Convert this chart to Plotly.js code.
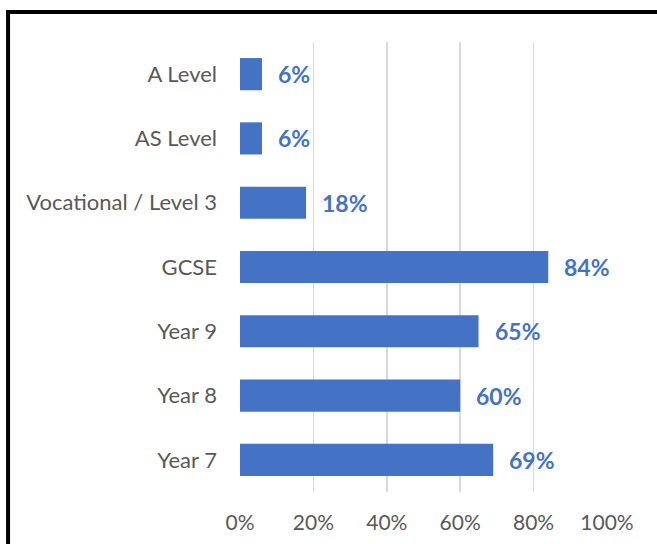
<!DOCTYPE html>
<html>
<head>
<meta charset="utf-8">
<script src="https://cdn.plot.ly/plotly-3.0.1.min.js"></script>
<style>html,body{margin:0;padding:0;background:#fff;}#chart{width:657px;height:544px;}</style>
</head>
<body>
<div id="chart"></div>
<script>
var categories = ["Year 7", "Year 8", "Year 9", "GCSE", "Vocational / Level 3", "AS Level", "A Level"];
var values = [69, 60, 65, 84, 18, 6, 6];
var labels = ["69%", "60%", "65%", "84%", "18%", "6%", "6%"];
var xTickVals = [0, 20, 40, 60, 80, 100];
var xTickText = ["0%", "20%", "40%", "60%", "80%", "100%"];

var FONT = "Lato, 'Open Sans', sans-serif";

var trace = {
  type: "bar",
  orientation: "h",
  y: categories,
  x: values,
  marker: {color: "#4472C4"},
  hoverinfo: "none"
};

var annotations = categories.map(function (c, i) {
  return {
    x: values[i], y: c, xref: "x", yref: "y",
    text: labels[i], showarrow: false,
    xanchor: "left", yanchor: "middle", xshift: 14,
    font: {family: FONT, size: 23, color: "#4472C4", weight: "bold"}
  };
});

var layout = {
  width: 657, height: 544,
  margin: {l: 240, r: 50, t: 42, b: 52},
  paper_bgcolor: "#ffffff",
  plot_bgcolor: "#ffffff",
  bargap: 0.5,
  showlegend: false,
  xaxis: {
    range: [0, 100],
    tickvals: xTickVals, ticktext: xTickText,
    showgrid: true, gridcolor: "#d9d9d9", gridwidth: 1.5,
    zeroline: false, showline: false,
    ticks: "", ticklabelstandoff: 16,
    tickfont: {family: FONT, size: 21, color: "#595959"},
    fixedrange: true
  },
  yaxis: {
    type: "category",
    categoryorder: "array", categoryarray: categories,
    showgrid: false, zeroline: false, showline: false,
    ticks: "", ticklabelstandoff: 22,
    tickfont: {family: FONT, size: 22, color: "#595959"},
    fixedrange: true
  },
  annotations: annotations,
  shapes: [{
    type: "rect", xref: "paper", yref: "paper",
    x0: -0.632, x1: 1.5, y0: -0.5, y1: 1.0667,
    line: {color: "#000000", width: 4}, fillcolor: "rgba(0,0,0,0)", layer: "above"
  }]
};

Plotly.newPlot("chart", [trace], layout, {displayModeBar: false, staticPlot: true});
</script>
</body>
</html>
